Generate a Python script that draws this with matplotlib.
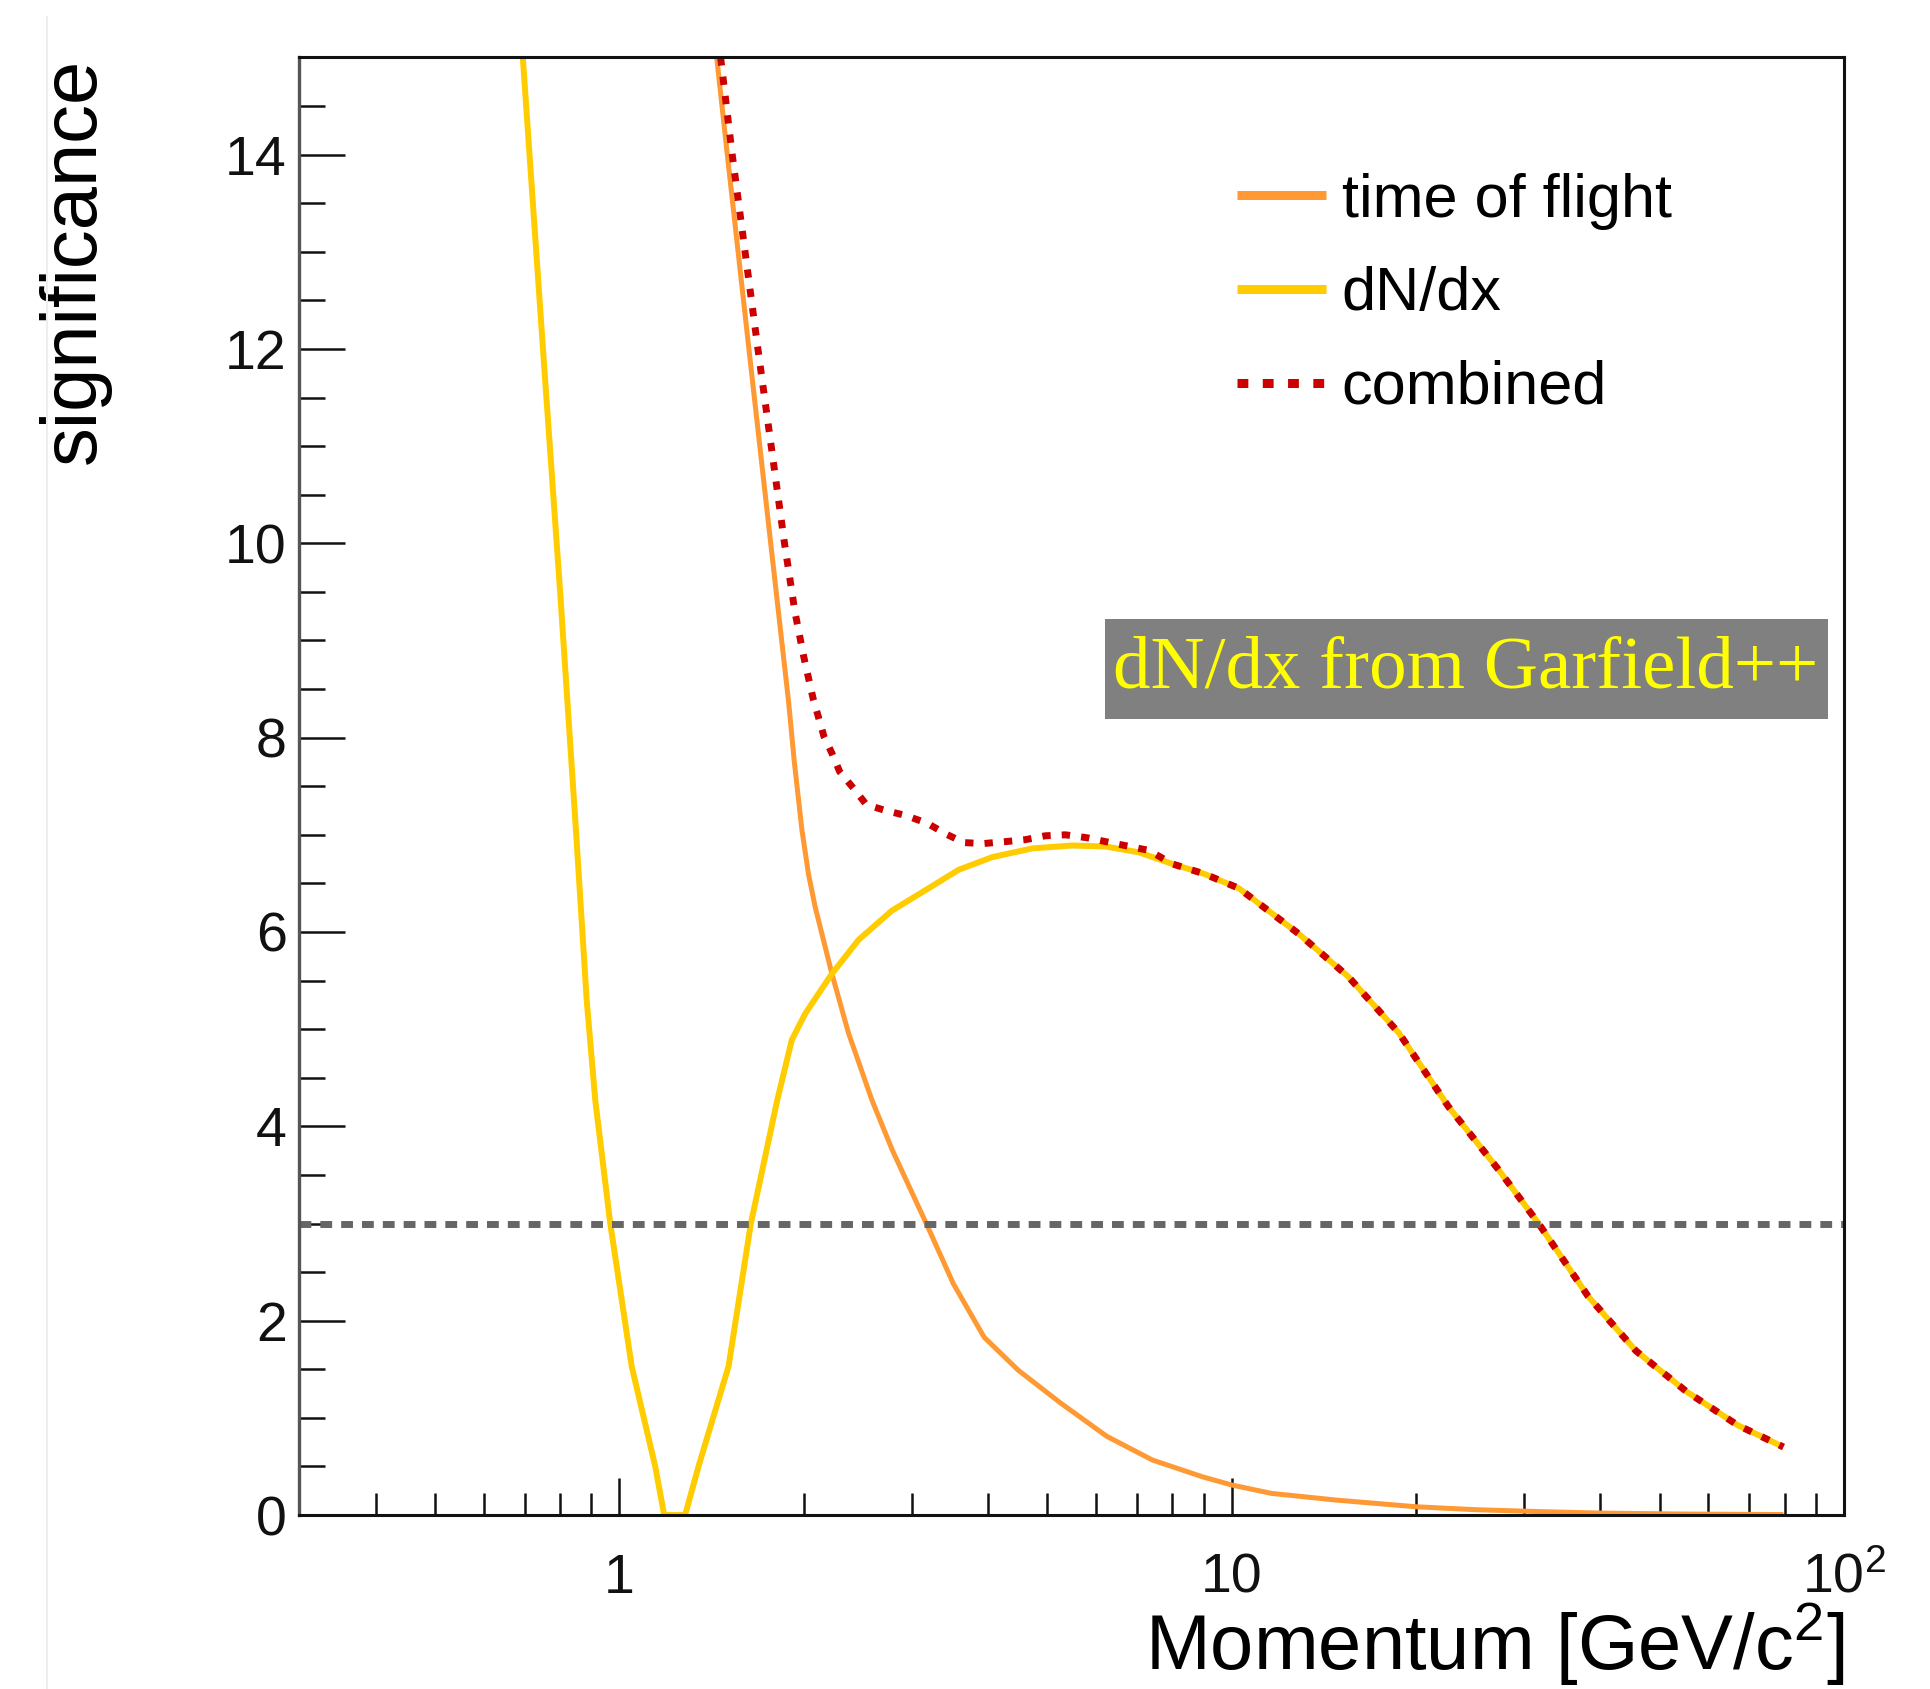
import numpy as np
import matplotlib
matplotlib.use("Agg")
import matplotlib.pyplot as plt
from matplotlib.ticker import FixedLocator, NullFormatter
from matplotlib.lines import Line2D
from matplotlib.patches import Rectangle

plt.rcParams['font.family'] = ['Liberation Sans', 'DejaVu Sans']
plt.rcParams['mathtext.fontset'] = 'custom'
plt.rcParams['mathtext.rm'] = 'Liberation Sans'

# time of flight significance vs momentum
tof_p = [1.43, 1.50, 1.627, 1.766, 1.888, 1.93, 1.986, 2.035, 2.087, 2.223, 2.366, 2.584,
         2.79, 3.17, 3.51, 3.94, 4.48, 5.26, 6.25, 7.42, 8.95, 10.0,
         11.6, 14.8, 20.0, 25.0, 32.0, 40.0, 55.0, 79.6]
tof_s = [15.2, 14.0, 12.0, 10.0, 8.38, 7.75, 7.05, 6.6, 6.26, 5.57, 4.96, 4.27,
         3.755, 3.0, 2.38, 1.83, 1.49, 1.15, 0.81, 0.566, 0.394, 0.309,
         0.223, 0.154, 0.085, 0.055, 0.035, 0.02, 0.01, 0.005]

# dN/dx significance
dndx_p = [0.69, 0.75, 0.80, 0.85, 0.884, 0.913, 0.966, 1.047, 1.144, 1.183, 1.28,
          1.346, 1.507, 1.639, 1.81, 1.912, 2.011, 2.223, 2.458, 2.786, 3.16, 3.58,
          4.06, 4.72, 5.48, 6.22, 7.05, 8.0, 9.0, 10.27, 12.87, 15.5, 18.75, 22.6,
          27.3, 31.7, 38.2, 45.7, 55.3, 67.0, 79.6]
dndx_s = [15.3, 12.0, 9.5, 7.0, 5.3, 4.27, 3.0, 1.53, 0.5, 0.0, 0.0,
          0.5, 1.53, 3.0, 4.27, 4.89, 5.16, 5.57, 5.92, 6.22, 6.43, 6.64,
          6.77, 6.86, 6.89, 6.88, 6.82, 6.70, 6.60, 6.45, 5.98, 5.54, 4.96, 4.20,
          3.55, 3.0, 2.25, 1.69, 1.27, 0.925, 0.70]

# combined
comb_p = [1.45, 1.528, 1.683, 1.86, 1.935, 2.0, 2.07, 2.158, 2.223, 2.289,
          2.41, 2.531, 2.72, 2.93, 3.18, 3.41, 3.65, 3.93, 4.27, 4.60, 4.96,
          5.35, 5.80, 6.22, 7.32, 8.0, 9.0, 10.27, 12.87, 15.5, 18.75, 22.6, 27.3,
          31.7, 38.2, 45.7, 55.3, 67.0, 79.6]
comb_s = [15.2, 14.0, 12.0, 10.0, 9.29, 8.83, 8.41, 8.01, 7.84, 7.65,
          7.48, 7.31, 7.25, 7.2, 7.12, 7.01, 6.92, 6.91, 6.93, 6.95, 6.99,
          7.0, 6.97, 6.93, 6.84, 6.70, 6.60, 6.45, 5.98, 5.54, 4.96, 4.20, 3.55,
          3.0, 2.25, 1.69, 1.27, 0.925, 0.70]

threshold = 3.0

fig = plt.figure(figsize=(19.31, 16.89), dpi=100)
ax = fig.add_axes([0.155, 0.103, 0.8, 0.863])

ax.plot(tof_p, tof_s, color='#ff9933', lw=3.6, label='time of flight', solid_capstyle='butt')
ax.plot(dndx_p, dndx_s, color='#ffcc00', lw=4.3, label='dN/dx', solid_capstyle='butt')
ax.plot(comb_p, comb_s, color='#cc0000', lw=5, linestyle=(0, (1.2, 1.6)), label='combined')
ax.axhline(threshold, color='#666666', lw=5, linestyle=(0, (1.7, 1.3)))

ax.set_xscale('log')
ax.set_xlim(0.3, 100)
ax.set_ylim(0, 15)

ax.xaxis.set_major_locator(FixedLocator([1, 10, 100]))
ax.set_xticklabels(['1', '10', r'$\mathregular{10^2}$'])
minors = [m * d for d in (0.1, 1, 10) for m in range(2, 10)]
ax.xaxis.set_minor_locator(FixedLocator([v for v in minors if v > 0.3]))
ax.xaxis.set_minor_formatter(NullFormatter())
ax.yaxis.set_major_locator(FixedLocator(np.arange(0, 15, 2)))
ax.yaxis.set_minor_locator(FixedLocator(np.arange(0, 15, 0.5)))

ax.tick_params(axis='both', which='both', direction='in', top=False, right=False,
               colors='#111111', width=1.8, labelsize=40)
ax.tick_params(axis='y', which='major', length=33, pad=9)
ax.tick_params(axis='y', which='minor', length=19)
ax.tick_params(axis='x', which='major', length=27, pad=27)
ax.tick_params(axis='x', which='minor', length=16)

for side in ['top', 'right', 'bottom']:
    ax.spines[side].set_linewidth(2.2)
    ax.spines[side].set_color('#111111')
ax.spines['left'].set_linewidth(2.4)
ax.spines['left'].set_color('#555555')

ax.set_ylabel('significance', fontsize=56, loc='top')
ax.yaxis.set_label_coords(-0.122, 1.0)
ax.set_xlabel(r'Momentum [GeV/$\mathregular{c^2}$]', fontsize=56, loc='right')
ax.xaxis.set_label_coords(1.0, -0.059)

leg = ax.legend(loc='upper left', bbox_to_anchor=(0.6067, 0.921), frameon=False,
                fontsize=44, borderpad=0, borderaxespad=0, handlelength=1.46,
                handletextpad=0.26, labelspacing=0.6)
for ln in leg.get_lines():
    ln.set_linewidth(6.5)

# grey label box
ax.add_patch(Rectangle((0.5213, 0.546), 0.4684, 0.0685, transform=ax.transAxes,
                       facecolor='#808080', edgecolor='none', zorder=4))
ax.text(0.755, 0.580, 'dN/dx from Garfield++', transform=ax.transAxes,
        fontsize=54, family='Liberation Serif', color='#ffff00',
        ha='center', va='center', zorder=5)

# faint border at the left edge of the original screenshot
fig.add_artist(Line2D([47 / 1931, 47 / 1931], [0, 1 - 17 / 1689],
                      transform=fig.transFigure, color='#eeeeee', lw=1.5))

fig.savefig('out.png', dpi=100)
